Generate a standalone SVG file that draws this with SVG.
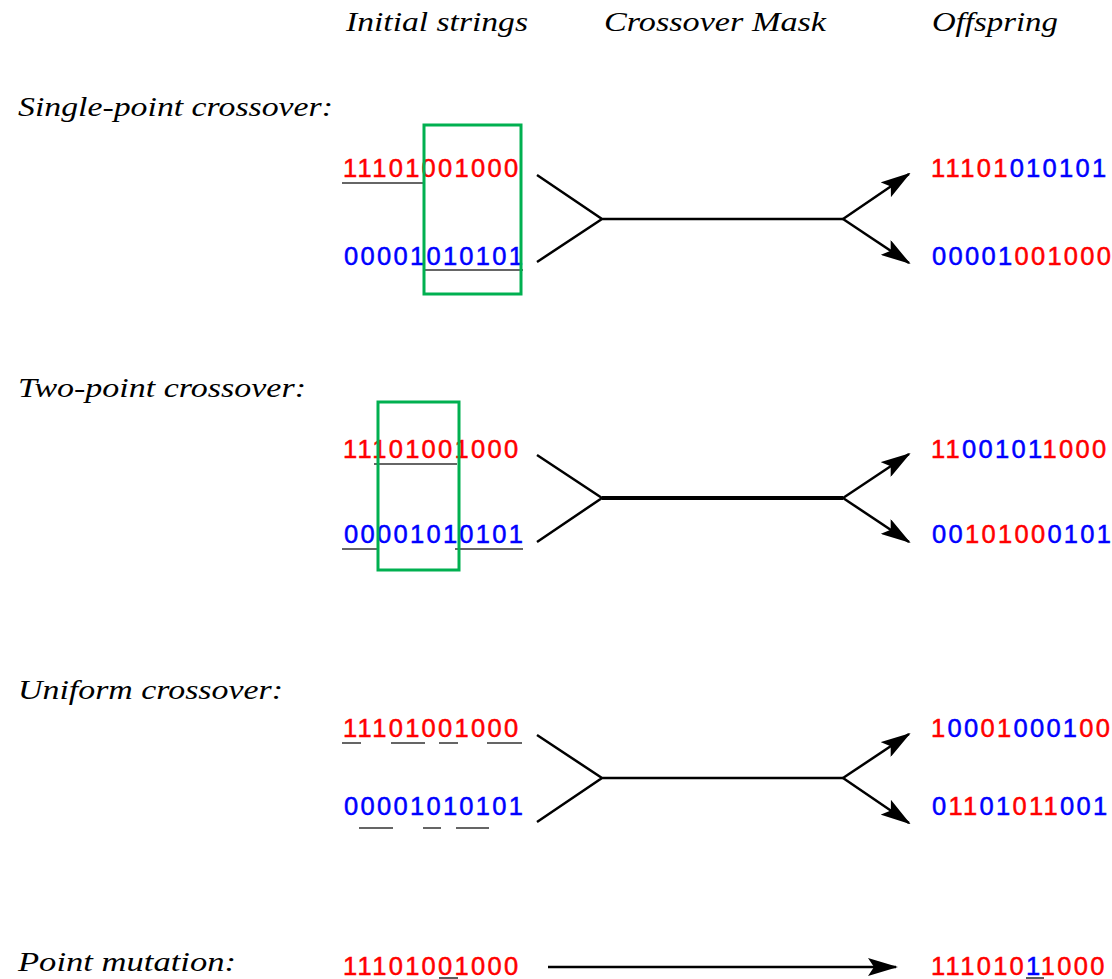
<svg xmlns="http://www.w3.org/2000/svg" width="1112" height="979" viewBox="0 0 1112 979">
<style>
.hdr{font-family:"Liberation Serif","Times New Roman",serif;font-style:italic;font-size:27px;fill:#000}
.bits{font-family:"Liberation Sans",Arial,sans-serif;font-size:25.5px;letter-spacing:2.3px}
.r{fill:#ff0000;stroke:#ff0000;stroke-width:0.5}.b{fill:#0000ff;stroke:#0000ff;stroke-width:0.5}
.ul{stroke:#333;stroke-width:1.6;fill:none}
.box{stroke:#00b050;stroke-width:3;fill:none}
.con{stroke:#000;stroke-width:2.5;fill:none}
</style>
<defs>
<marker id="ah" viewBox="0 0 30 18" refX="28" refY="9" markerWidth="30" markerHeight="18" markerUnits="userSpaceOnUse" orient="auto">
<path d="M0,0 L30,9 L0,18 L6,9 z" fill="#000"/>
</marker>
</defs>
<rect width="1112" height="979" fill="#fff"/>

<g id="headers">
<text class="hdr" x="346" y="31" textLength="182" lengthAdjust="spacingAndGlyphs">Initial strings</text>
<text class="hdr" x="604" y="31" textLength="222" lengthAdjust="spacingAndGlyphs">Crossover Mask</text>
<text class="hdr" x="932" y="31" textLength="126" lengthAdjust="spacingAndGlyphs">Offspring</text>
</g>

<g id="labels">
<text class="hdr" x="18" y="116" textLength="315" lengthAdjust="spacingAndGlyphs">Single-point crossover:</text>
<text class="hdr" x="18" y="397" textLength="288" lengthAdjust="spacingAndGlyphs">Two-point crossover:</text>
<text class="hdr" x="18" y="699" textLength="265" lengthAdjust="spacingAndGlyphs">Uniform crossover:</text>
<text class="hdr" x="18" y="971" textLength="218" lengthAdjust="spacingAndGlyphs">Point mutation:</text>
</g>

<g id="single-point">
<text class="bits r" x="343" y="177">11101001000</text>
<text class="bits b" x="344" y="265">00001010101</text>
<line class="ul" x1="342" y1="183" x2="424" y2="183"/>
<line class="ul" x1="423" y1="270" x2="523" y2="270"/>
<rect class="box" x="424" y="125" width="97" height="169"/>
<text class="bits" x="931" y="177"><tspan class="r">11101</tspan><tspan class="b">010101</tspan></text>
<text class="bits" x="932" y="265"><tspan class="b">00001</tspan><tspan class="r">001000</tspan></text>
</g>

<g id="two-point">
<text class="bits r" x="343" y="458">11101001000</text>
<text class="bits b" x="344" y="543">00001010101</text>
<line class="ul" x1="374" y1="464" x2="457" y2="464"/>
<line class="ul" x1="342" y1="549" x2="377" y2="549"/>
<line class="ul" x1="455" y1="549" x2="523" y2="549"/>
<rect class="box" x="378" y="402" width="81" height="168"/>
<text class="bits" x="931" y="458"><tspan class="r">11</tspan><tspan class="b">00101</tspan><tspan class="r">1000</tspan></text>
<text class="bits" x="932" y="543"><tspan class="b">00</tspan><tspan class="r">10100</tspan><tspan class="b">0101</tspan></text>
</g>

<g id="uniform">
<text class="bits r" x="343" y="737">11101001000</text>
<text class="bits b" x="344" y="815">00001010101</text>
<path class="ul" d="M342,743 H361 M391,743 H425 M439,743 H458 M487,743 H522"/>
<path class="ul" d="M359,828 H393 M423,828 H441 M456,828 H489"/>
<text class="bits" x="931" y="737"><tspan class="r">1</tspan><tspan class="b">00</tspan><tspan class="r">01</tspan><tspan class="b">0001</tspan><tspan class="r">00</tspan></text>
<text class="bits" x="932" y="815"><tspan class="b">0</tspan><tspan class="r">11</tspan><tspan class="b">01</tspan><tspan class="r">011</tspan><tspan class="b">001</tspan></text>
</g>

<g id="mutation">
<text class="bits r" x="343" y="975">11101001000</text>
<line class="ul" x1="439" y1="978" x2="458" y2="978"/>
<text class="bits" x="931" y="975"><tspan class="r">111010</tspan><tspan class="b">1</tspan><tspan class="r">1000</tspan></text>
<line class="ul" x1="1026" y1="978" x2="1044" y2="978"/>
</g>

<g id="connectors">
<path class="con" d="M537,175 L602,219 L537,262 M602,219 H843"/>
<path class="con" d="M843,219 L909,174" marker-end="url(#ah)"/>
<path class="con" d="M843,219 L909,263" marker-end="url(#ah)"/>
<path class="con" d="M537,455 L602,498 L537,542"/>
<path class="con" d="M602,498 H843" style="stroke-width:4"/>
<path class="con" d="M843,498 L909,454" marker-end="url(#ah)"/>
<path class="con" d="M843,498 L909,542" marker-end="url(#ah)"/>
<path class="con" d="M537,735 L602,778 L537,822 M602,778 H843"/>
<path class="con" d="M843,778 L909,734" marker-end="url(#ah)"/>
<path class="con" d="M843,778 L909,823" marker-end="url(#ah)"/>
<path class="con" d="M548,967 H896" marker-end="url(#ah)"/>
</g>
</svg>
